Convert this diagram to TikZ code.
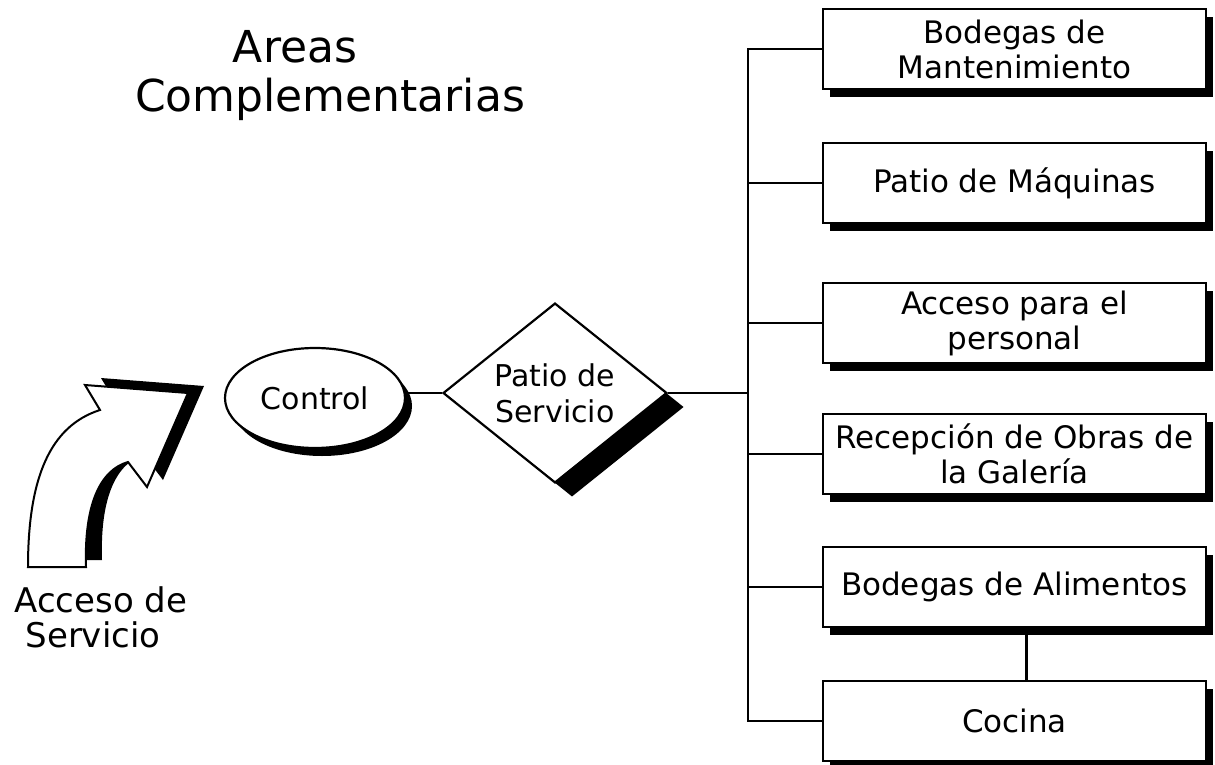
\documentclass[tikz,border=0pt]{standalone}
\usepackage{fontspec}
\setmainfont{DejaVu Sans}
\usetikzlibrary{shapes.geometric,shadows}
\newcommand\fsz[2]{\fontsize{#1}{#2}\selectfont}
\tikzset{
  ln/.style={line width=2.4pt},
  blackshadow/.style={drop shadow={shadow xshift=#1, shadow yshift=-8pt, opacity=1, fill=black}},
  boxnode/.style={draw, line width=2.4pt, fill=white, minimum width=383pt, minimum height=80pt,
    align=center, inner sep=0pt, font={\fsz{31}{35}}, blackshadow=7pt},
  label/.style={inner sep=0pt, anchor=base},
}
\begin{document}
\begin{tikzpicture}[x=1pt,y=-1pt]
\useasboundingbox[fill=white] (0,0) rectangle (1215,765);

% title
\node[label, font={\fsz{44}{50}}] (title1) at (295,63) {Areas};
\node[label, font={\fsz{44}{50}}] (title2) at (330,112) {Complementarias};

% access arrow (3D)
\fill[black, shift={(16,-7)}] (28,567) -- (86,567) .. controls (84,505) and (100,470) .. (128,462)
  -- (147,487) -- (188,393) -- (85,385) -- (100,410) .. controls (50,426) and (28,478) .. (28,567) -- cycle;
\draw[line width=2pt, fill=white, line join=miter] (28,567) -- (86,567) .. controls (84,505) and (100,470) .. (128,462)
  -- (147,487) -- (188,393) -- (85,385) -- (100,410) .. controls (50,426) and (28,478) .. (28,567) -- cycle;

\node[label, font={\fsz{34}{40}}] (acc1) at (101,612) {Acceso de};
\node[label, font={\fsz{34}{40}}] (acc2) at (93,647) {Servicio};

% control ellipse
\node[ellipse, draw, line width=2.2pt, fill=white, minimum width=180pt, minimum height=100pt,
  inner sep=0pt, font={\fsz{30}{35}}, drop shadow={shadow xshift=7pt, shadow yshift=-8pt, opacity=1, fill=black}]
  (c) at (315,398) {Control};

% diamond
\node[diamond, draw, line width=2.2pt, fill=white, minimum width=224pt, minimum height=150pt,
  inner sep=0pt, align=center, font={\fsz{30}{36}},
  drop shadow={shadow xshift=17pt, shadow yshift=-14pt, opacity=1, fill=black}]
  (d) at (555,393) {Patio de\\Servicio};

% boxes
\node[boxnode] (b1) at (1014.5,49) {Bodegas de\\Mantenimiento};
\node[boxnode] (b2) at (1014.5,183) {Patio de Máquinas};
\node[boxnode] (b3) at (1014.5,323) {Acceso para el\\personal};
\node[boxnode] (b4) at (1014.5,454) {Recepción de Obras de\\la Galería};
\node[boxnode] (b5) at (1014.5,587) {Bodegas de Alimentos};
\node[boxnode] (b6) at (1014.5,721) {Cocina};

\coordinate (bus) at (748,0);

% connectors
\draw[ln] (c.east |- d.west) -- (d.west);
\draw[ln] (d.east) -- (d.east -| bus);
\draw[ln] (b1.west) -- (b1.west -| bus) |- (b6.west);
\draw[ln] (b2.west) -- (b2.west -| bus);
\draw[ln] (b3.west) -- (b3.west -| bus);
\draw[ln] (b4.west) -- (b4.west -| bus);
\draw[ln] (b5.west) -- (b5.west -| bus);
\draw[ln] ([xshift=12pt]b5.south) -- ([xshift=12pt]b6.north);
\end{tikzpicture}
\end{document}
